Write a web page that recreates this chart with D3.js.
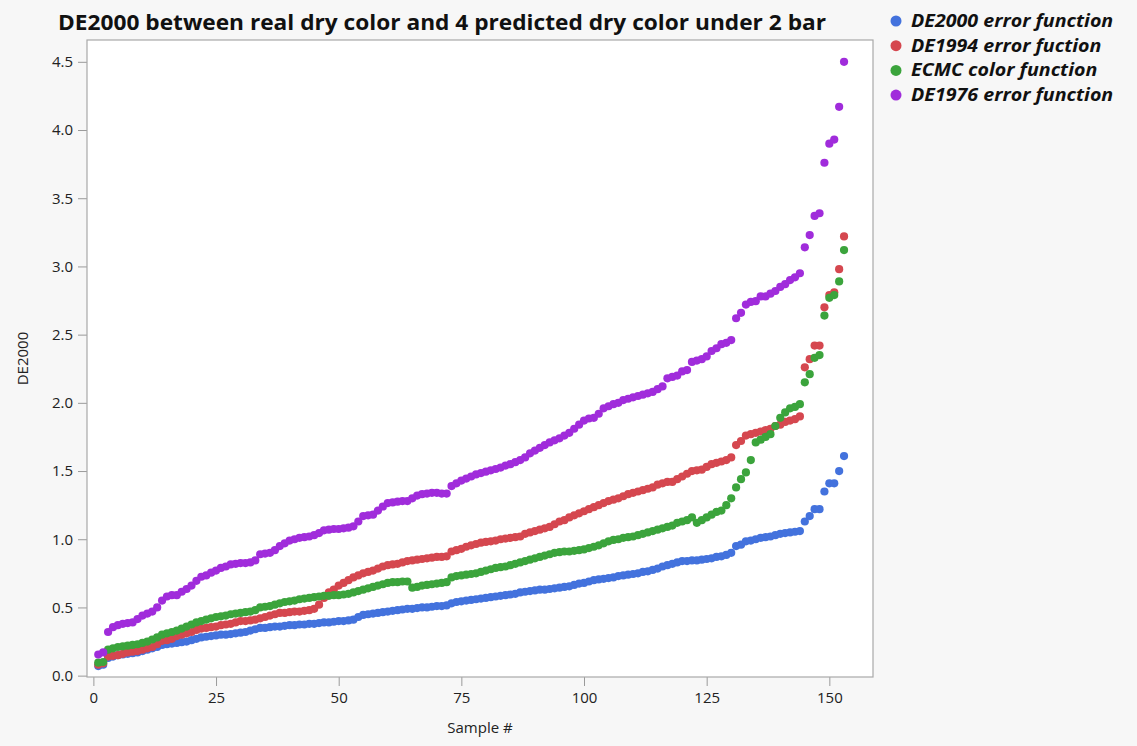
<!DOCTYPE html>
<html>
<head>
<meta charset="utf-8">
<script src="https://cdn.jsdelivr.net/npm/d3@7"></script>
<style>
  html, body { margin: 0; padding: 0; background: #f7f7f7; }
  svg { display: block; }
</style>
</head>
<body>
<svg id="chart" width="1137" height="746"></svg>
<script>
// Sorted colour-difference errors for 153 samples, one array per metric
const de2000 = [
  0.07, 0.08, 0.13, 0.14, 0.15, 0.155, 0.16, 0.165, 0.17, 0.18,
  0.19, 0.20, 0.21, 0.225, 0.23, 0.235, 0.24, 0.245, 0.25, 0.26,
  0.27, 0.28, 0.285, 0.29, 0.295, 0.30, 0.30, 0.305, 0.31, 0.315,
  0.32, 0.33, 0.34, 0.35, 0.35, 0.355, 0.36, 0.36, 0.365, 0.37,
  0.37, 0.375, 0.375, 0.38, 0.38, 0.385, 0.39, 0.39, 0.395, 0.40,
  0.40, 0.405, 0.41, 0.43, 0.445, 0.45, 0.455, 0.46, 0.465, 0.47,
  0.475, 0.48, 0.485, 0.49, 0.49, 0.495, 0.50, 0.50, 0.505, 0.51,
  0.51, 0.515, 0.53, 0.54, 0.545, 0.55, 0.555, 0.56, 0.565, 0.57,
  0.575, 0.58, 0.585, 0.59, 0.595, 0.60, 0.61, 0.615, 0.62, 0.625,
  0.63, 0.63, 0.635, 0.64, 0.645, 0.65, 0.655, 0.665, 0.675, 0.68,
  0.69, 0.70, 0.705, 0.71, 0.715, 0.72, 0.73, 0.735, 0.74, 0.745,
  0.75, 0.76, 0.765, 0.775, 0.785, 0.80, 0.81, 0.82, 0.83, 0.84,
  0.84, 0.845, 0.845, 0.85, 0.855, 0.86, 0.87, 0.875, 0.885, 0.90,
  0.95, 0.96, 0.985, 0.99, 1.00, 1.01, 1.015, 1.02, 1.03, 1.04,
  1.045, 1.05, 1.055, 1.06, 1.13, 1.17, 1.22, 1.22, 1.35, 1.41,
  1.41, 1.50, 1.61
];

const de1994 = [
  0.08, 0.09, 0.14, 0.145, 0.15, 0.16, 0.17, 0.175, 0.18, 0.19,
  0.20, 0.21, 0.23, 0.255, 0.26, 0.27, 0.29, 0.30, 0.31, 0.32,
  0.335, 0.345, 0.35, 0.355, 0.36, 0.37, 0.375, 0.38, 0.39, 0.40,
  0.40, 0.405, 0.41, 0.42, 0.43, 0.44, 0.45, 0.46, 0.46, 0.465,
  0.47, 0.47, 0.475, 0.48, 0.49, 0.52, 0.57, 0.61, 0.63, 0.66,
  0.68, 0.70, 0.72, 0.735, 0.75, 0.76, 0.77, 0.785, 0.80, 0.81,
  0.815, 0.82, 0.83, 0.84, 0.845, 0.85, 0.855, 0.86, 0.865, 0.87,
  0.87, 0.875, 0.91, 0.92, 0.93, 0.945, 0.955, 0.965, 0.975, 0.98,
  0.985, 0.99, 1.00, 1.005, 1.01, 1.015, 1.02, 1.04, 1.05, 1.06,
  1.07, 1.08, 1.09, 1.11, 1.13, 1.14, 1.16, 1.175, 1.19, 1.205,
  1.22, 1.235, 1.25, 1.265, 1.28, 1.29, 1.30, 1.315, 1.33, 1.34,
  1.35, 1.36, 1.37, 1.38, 1.40, 1.41, 1.42, 1.42, 1.44, 1.46,
  1.48, 1.50, 1.505, 1.51, 1.53, 1.55, 1.56, 1.57, 1.58, 1.60,
  1.69, 1.72, 1.76, 1.77, 1.78, 1.79, 1.80, 1.81, 1.83, 1.84,
  1.86, 1.87, 1.88, 1.90, 2.26, 2.32, 2.42, 2.42, 2.70, 2.79,
  2.81, 2.98, 3.22
];

const ecmc = [
  0.095, 0.10, 0.19, 0.20, 0.21, 0.215, 0.22, 0.225, 0.23, 0.24,
  0.25, 0.265, 0.28, 0.30, 0.31, 0.32, 0.33, 0.345, 0.36, 0.375,
  0.39, 0.40, 0.41, 0.42, 0.43, 0.435, 0.44, 0.45, 0.455, 0.46,
  0.465, 0.47, 0.48, 0.50, 0.505, 0.51, 0.52, 0.53, 0.54, 0.545,
  0.55, 0.56, 0.565, 0.57, 0.575, 0.58, 0.585, 0.585, 0.59, 0.59,
  0.595, 0.60, 0.61, 0.62, 0.63, 0.64, 0.65, 0.66, 0.67, 0.68,
  0.685, 0.685, 0.69, 0.69, 0.645, 0.65, 0.66, 0.665, 0.67, 0.675,
  0.68, 0.685, 0.72, 0.73, 0.735, 0.74, 0.745, 0.75, 0.76, 0.77,
  0.78, 0.79, 0.795, 0.80, 0.81, 0.82, 0.83, 0.84, 0.85, 0.86,
  0.87, 0.88, 0.89, 0.90, 0.905, 0.91, 0.91, 0.915, 0.92, 0.925,
  0.935, 0.945, 0.955, 0.97, 0.985, 0.995, 1.00, 1.01, 1.015, 1.02,
  1.03, 1.04, 1.05, 1.06, 1.07, 1.08, 1.09, 1.10, 1.12, 1.13,
  1.14, 1.16, 1.12, 1.14, 1.16, 1.18, 1.20, 1.21, 1.25, 1.30,
  1.38, 1.44, 1.49, 1.58, 1.71, 1.73, 1.75, 1.77, 1.83, 1.89,
  1.93, 1.96, 1.97, 1.99, 2.15, 2.21, 2.33, 2.35, 2.64, 2.77,
  2.79, 2.89, 3.12
];

const de1976 = [
  0.155, 0.17, 0.32, 0.355, 0.37, 0.38, 0.385, 0.39, 0.415, 0.44,
  0.455, 0.47, 0.50, 0.55, 0.58, 0.59, 0.59, 0.615, 0.635, 0.66,
  0.695, 0.725, 0.735, 0.755, 0.77, 0.79, 0.80, 0.815, 0.82, 0.825,
  0.825, 0.83, 0.845, 0.89, 0.895, 0.90, 0.92, 0.95, 0.97, 0.99,
  1.00, 1.01, 1.015, 1.02, 1.03, 1.045, 1.065, 1.07, 1.075, 1.075,
  1.08, 1.085, 1.095, 1.13, 1.17, 1.175, 1.18, 1.21, 1.24, 1.265,
  1.27, 1.275, 1.28, 1.28, 1.30, 1.32, 1.33, 1.335, 1.34, 1.34,
  1.335, 1.335, 1.39, 1.41, 1.43, 1.445, 1.46, 1.475, 1.485, 1.495,
  1.505, 1.515, 1.525, 1.54, 1.55, 1.565, 1.58, 1.60, 1.63, 1.65,
  1.67, 1.69, 1.71, 1.725, 1.74, 1.76, 1.78, 1.81, 1.84, 1.87,
  1.885, 1.89, 1.92, 1.96, 1.975, 1.99, 2.00, 2.02, 2.03, 2.04,
  2.05, 2.06, 2.07, 2.08, 2.10, 2.12, 2.18, 2.19, 2.20, 2.23,
  2.24, 2.30, 2.31, 2.32, 2.34, 2.38, 2.40, 2.43, 2.44, 2.46,
  2.62, 2.66, 2.72, 2.74, 2.745, 2.78, 2.78, 2.80, 2.82, 2.85,
  2.87, 2.90, 2.92, 2.95, 3.14, 3.23, 3.37, 3.39, 3.76, 3.90,
  3.93, 4.17, 4.50
];

const seriesNames = ["DE2000 error function", "DE1994 error fuction", "ECMC color function", "DE1976 error function"];
const seriesColors = ["#4372dd", "#d5474f", "#3ba43c", "#a02cdb"];
const seriesValues = [de2000, de1994, ecmc, de1976];

const xTicks = [0, 25, 50, 75, 100, 125, 150];
const yTicks = [0.0, 0.5, 1.0, 1.5, 2.0, 2.5, 3.0, 3.5, 4.0, 4.5];

const titleText = "DE2000 between real dry color and 4 predicted dry color under 2 bar";
const xLabel = "Sample #";
const yLabel = "DE2000";

const svg = d3.select("#chart");
const frame = { left: 87, right: 873, top: 40, bottom: 677 };

const x = d3.scaleLinear().domain([-1.3, 158.9]).range([frame.left, frame.right]);
const y = d3.scaleLinear().domain([-0.01, 4.66]).range([frame.bottom, frame.top]);

// plot background
svg.append("rect")
  .attr("x", frame.left).attr("y", frame.top)
  .attr("width", frame.right - frame.left).attr("height", frame.bottom - frame.top)
  .attr("fill", "#ffffff");

// axes
const axisFont = "'Open Sans', 'Noto Sans', sans-serif";
const xAxis = svg.append("g")
  .attr("transform", `translate(0,${frame.bottom})`)
  .call(d3.axisBottom(x).tickValues(xTicks).tickSize(9).tickSizeOuter(0).tickPadding(6).tickFormat(d3.format("d")));
const yAxis = svg.append("g")
  .attr("transform", `translate(${frame.left},0)`)
  .call(d3.axisLeft(y).tickValues(yTicks).tickSize(9).tickSizeOuter(0).tickPadding(5).tickFormat(d3.format(".1f")));

[xAxis, yAxis].forEach(g => {
  g.select(".domain").remove();
  g.selectAll(".tick line").attr("stroke", "#9a9a9a");
  g.selectAll(".tick text")
    .attr("fill", "#222")
    .style("font-family", axisFont)
    .style("font-size", "15px");
});

// frame border
svg.append("rect")
  .attr("x", frame.left).attr("y", frame.top)
  .attr("width", frame.right - frame.left).attr("height", frame.bottom - frame.top)
  .attr("fill", "none").attr("stroke", "#a8a8a8").attr("stroke-width", 1.2);

// points
const plot = svg.append("g");
seriesValues.forEach((vals, k) => {
  plot.append("g").selectAll("circle")
    .data(vals)
    .join("circle")
    .attr("cx", (d, i) => x(i + 1))
    .attr("cy", d => y(d))
    .attr("r", 4.1)
    .attr("fill", seriesColors[k]);
});

// title
svg.append("text")
  .attr("x", 442).attr("y", 30)
  .attr("text-anchor", "middle")
  .attr("textLength", 768).attr("lengthAdjust", "spacingAndGlyphs")
  .style("font-family", axisFont)
  .style("font-weight", "700")
  .style("font-size", "21px")
  .attr("fill", "#111")
  .text(titleText);

// axis titles
svg.append("text")
  .attr("x", (frame.left + frame.right) / 2).attr("y", 733)
  .attr("text-anchor", "middle")
  .style("font-family", axisFont).style("font-size", "15px")
  .attr("fill", "#222")
  .text(xLabel);

svg.append("text")
  .attr("transform", `translate(28,${(frame.top + frame.bottom) / 2}) rotate(-90)`)
  .attr("text-anchor", "middle")
  .style("font-family", axisFont).style("font-size", "15px")
  .attr("fill", "#222")
  .text(yLabel);

// legend
const legend = svg.append("g");
const legendRows = legend.selectAll("g")
  .data(seriesNames)
  .join("g")
  .attr("transform", (d, i) => `translate(896,${21 + i * 24.7})`);
legendRows.append("circle").attr("r", 5.5).attr("fill", (d, i) => seriesColors[i]);
legendRows.append("text")
  .attr("x", 15).attr("y", 6)
  .style("font-family", axisFont)
  .style("font-weight", "700").style("font-style", "italic")
  .style("font-size", "18px")
  .attr("fill", "#111")
  .text(d => d)
  .each(function () {
    // widen the legend labels slightly to the heavier face used by the chart
    const w = this.getComputedTextLength();
    d3.select(this).attr("textLength", w * 1.09).attr("lengthAdjust", "spacingAndGlyphs");
  });
</script>
</body>
</html>
